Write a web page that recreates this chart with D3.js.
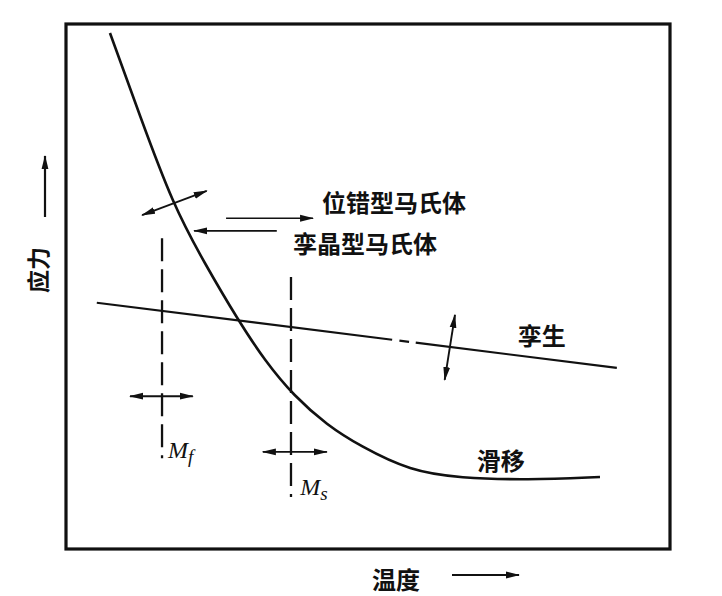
<!DOCTYPE html>
<html><head><meta charset="utf-8">
<script src="https://cdn.jsdelivr.net/npm/d3@7"></script>
<style>body{margin:0;background:#fff}</style>
</head><body><svg id="c" width="722" height="596"></svg>
<script>
// ---- data (temperature t: 0-100, stress s: 0-100, arbitrary units) ----
const slipCurve = [[7.28,98.29],[12.25,82.48],[17.72,65.52],[23.01,54.29],[28.48,43.62],[32.95,35.81],[37.75,29.14],[43.21,23.62],[48.68,19.62],[57.0,14.86],[65.23,13.52],[76.32,13.14],[88.41,13.71]];
const twinSegments = [[[5.1,46.9],[54.0,39.86]],[[55.2,39.69],[56.8,39.46]],[[57.9,39.3],[91.2,34.5]]];
const transTemps = [{name:"f", t:15.9, s0:17.3, s1:59.2}, {name:"s", t:37.25, s0:9.9, s1:51.8}];
const doubleArrows = [
  [[10.6,29.1],[21.0,29.1]],   // Mf spread
  [[32.6,18.5],[43.2,18.5]],   // Ms spread
  [[12.6,63.6],[23.3,68.2]],   // slip curve spread
  [[64.4,44.6],[62.7,32.2]]    // twin line spread
];
const singleArrows = [
  [[26.5,63.0],[40.9,63.0]],   // -> dislocation martensite
  [[34.9,60.6],[21.2,60.6]]    // <- twinned martensite
];
const labels = [
  {text:"位错型马氏体", t:42.4, s:64.2},
  {text:"孪晶型马氏体", t:37.6, s:56.3},
  {text:"孪生", t:74.8, s:38.9},
  {text:"滑移", t:68.0, s:15.0}
];
const mLabels = [{sub:"f", t:16.9, s:17.4}, {sub:"s", t:38.8, s:10.2}];
const xTitle = "温度", yTitle = "应力";

// ---- layout ----
const svg = d3.select("#c");
const L = 66, R = 670, T = 24, B = 549;
const x = d3.scaleLinear().domain([0,100]).range([L,R]);
const y = d3.scaleLinear().domain([0,100]).range([B,T]);
const cjk = "'Noto Sans CJK SC','Noto Sans CJK JP',sans-serif";

const defs = svg.append("defs");
defs.append("marker").attr("id","ah")
  .attr("viewBox","0 -4 14 8").attr("refX",13).attr("refY",0)
  .attr("markerWidth",14).attr("markerHeight",8)
  .attr("markerUnits","userSpaceOnUse").attr("orient","auto-start-reverse")
  .append("path").attr("d","M0,-3.4L14,0L0,3.4Z").attr("fill","#111");

svg.append("rect").attr("width",722).attr("height",596).attr("fill","#fff");

// frame
svg.append("rect").attr("x",L).attr("y",T).attr("width",R-L).attr("height",B-T)
  .attr("fill","none").attr("stroke","#111").attr("stroke-width",3.2);

const line = d3.line().x(d=>x(d[0])).y(d=>y(d[1]));

// slip curve
svg.append("path").datum(slipCurve)
  .attr("d", d3.line().x(d=>x(d[0])).y(d=>y(d[1])).curve(d3.curveBasis))
  .attr("fill","none").attr("stroke","#111").attr("stroke-width",2.6);

// twin line
svg.selectAll(".twin").data(twinSegments).join("path").attr("class","twin")
  .attr("d", line).attr("fill","none").attr("stroke","#111").attr("stroke-width",2.2);

// dashed Mf / Ms lines
svg.selectAll(".mline").data(transTemps).join("line").attr("class","mline")
  .attr("x1",d=>x(d.t)).attr("x2",d=>x(d.t)).attr("y1",d=>y(d.s1)).attr("y2",d=>y(d.s0))
  .attr("stroke","#111").attr("stroke-width",2.3).attr("stroke-dasharray","23,8");

// arrows
svg.selectAll(".darr").data(doubleArrows).join("path").attr("class","darr")
  .attr("d", line).attr("fill","none").attr("stroke","#111").attr("stroke-width",1.9)
  .attr("marker-start","url(#ah)").attr("marker-end","url(#ah)");
svg.selectAll(".sarr").data(singleArrows).join("path").attr("class","sarr")
  .attr("d", line).attr("fill","none").attr("stroke","#111").attr("stroke-width",1.7)
  .attr("marker-end","url(#ah)");

// labels
svg.selectAll(".lab").data(labels).join("text").attr("class","lab")
  .attr("x",d=>x(d.t)).attr("y",d=>y(d.s)).text(d=>d.text)
  .attr("font-family",cjk).attr("font-size",24).attr("font-weight","bold").attr("fill","#111");

const ml = svg.selectAll(".ml").data(mLabels).join("text").attr("class","ml")
  .attr("x",d=>x(d.t)).attr("y",d=>y(d.s))
  .attr("font-family","'Liberation Serif','DejaVu Serif',serif").attr("font-style","italic")
  .attr("font-size",24).attr("fill","#111");
ml.append("tspan").text("M");
ml.append("tspan").attr("dy",5).attr("font-size",19).text(d=>d.sub);

// axis titles
svg.append("text").attr("x",396).attr("y",589).attr("text-anchor","middle")
  .attr("font-family",cjk).attr("font-size",24).attr("font-weight","bold").attr("fill","#111").text(xTitle);
svg.append("line").attr("x1",452).attr("x2",519).attr("y1",575).attr("y2",575)
  .attr("stroke","#111").attr("stroke-width",2.2).attr("marker-end","url(#ah)");

svg.append("text").attr("transform","translate(47,270) rotate(-90)").attr("text-anchor","middle")
  .attr("font-family",cjk).attr("font-size",23).attr("font-weight","bold").attr("fill","#111").text(yTitle);
svg.append("line").attr("x1",45).attr("x2",45).attr("y1",217).attr("y2",156)
  .attr("stroke","#111").attr("stroke-width",2.2).attr("marker-end","url(#ah)");
</script></body></html>
